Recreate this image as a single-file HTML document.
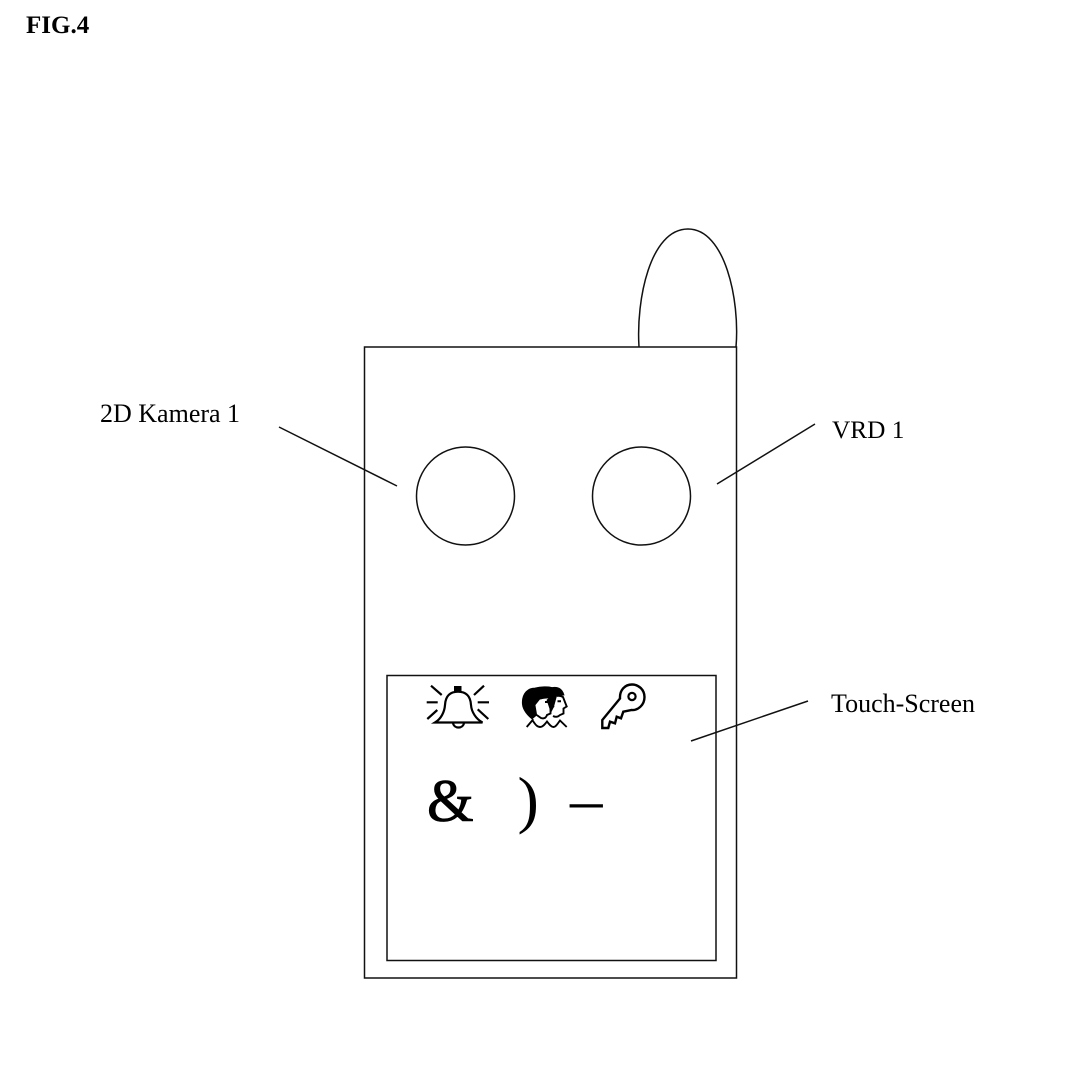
<!DOCTYPE html>
<html><head><meta charset="utf-8"><style>
html,body{margin:0;padding:0;background:#fff;width:1070px;height:1071px;overflow:hidden}
svg{display:block}
text{font-family:"Liberation Serif",serif;fill:#000}
</style></head><body>
<svg width="1070" height="1071" viewBox="0 0 1070 1071" fill="none" stroke="#111" stroke-width="1.5">
<text x="26" y="33" font-size="25" font-weight="bold" stroke="none">FIG.4</text>
<path d="M639 347C636 300 650 229 688 229C725 229 740 300 736 347"/>
<rect x="364.500" y="347" width="372" height="631"/>
<circle cx="465.500" cy="496" r="49"/>
<circle cx="641.500" cy="496" r="49"/>
<rect x="387" y="675.500" width="329" height="285"/>
<path d="M279 427L397 486M815 424L717 484M808 701L691 741"/>
<text x="100" y="422" font-size="26" stroke="none">2D Kamera 1</text>
<text x="832" y="438" font-size="25.300" stroke="none">VRD 1</text>
<text x="831" y="712" font-size="26" stroke="none">Touch-Screen</text>
<!-- bell -->
<g stroke="#000" stroke-width="2.200">
<path d="M435 722.500C441 719 444.500 712 445 705C445.500 696 450 691.700 458 691.700C466 691.700 470.500 696 471 705C471.500 712 476 719 482.500 722.500Z"/>
<rect x="454" y="686" width="7.500" height="5.500" fill="#000" stroke="none"/>
<path d="M453 723C454 729 463 729 464 723"/>
<path d="M431 685.700L441.700 695M426.700 702.300H437.700M427.300 719L437.300 710M484 685.700L474 695M477.700 702.300H489M477.700 709.300L488.300 719"/>
</g>
<!-- people -->
<path d="M532 719C526 714 522 708 522.300 702C522.500 693 528 688 535 688C541 686.500 548 686.500 552 687.500C557 686.500 562 688 564 695L556.500 696L553.500 707L551 712L547 700L550 697.700L540 698.700L535 705L536.700 715Z" fill="#000" stroke="#000" stroke-width="0.800"/>
<g stroke="#000" stroke-width="1.900">
<path d="M540 698.700C544 697 548 697 550 697.700L553.300 706.500L550.500 708.500L550.500 713.500L547 715C546 718 544 719 541 718L536.700 715"/>
<path d="M556.700 696C559 695.500 561 696 563 697L566.700 706.500L563.500 708.500L563.500 713.500L560 715C558 717 556 717.500 553 716"/>
<path d="M526.700 727L533.300 719.300M533 721C535 724 537 727 540 727C543 727 545 724 547 721.500C549 724 551 727 553.500 727C556 727 558 723 560 720.500L566.700 727"/>
</g>
<path d="M545 702H549M557.500 701.300H561" stroke="#000" stroke-width="2"/>
<!-- key -->
<path d="M602.300 728V720L620 698.500C619.500 690 625 684.500 632 684.500C639 684.500 644.500 690 644.500 697C644.500 705 638 710.500 631.700 710L623.300 711.700L621 718.300L616.700 716.700L615 723.300L610 721.700L608.300 728Z" stroke="#000" stroke-width="2.400"/>
<circle cx="632" cy="696.500" r="3.600" stroke="#000" stroke-width="2.200"/>
<text x="427" y="821" font-size="60" stroke="#000" stroke-width="0.800">&amp;</text>
<text x="517.500" y="821" font-size="64" stroke="none">)</text>
<text x="570" y="821" font-size="65" stroke="none">–</text>
</svg>
</body></html>
